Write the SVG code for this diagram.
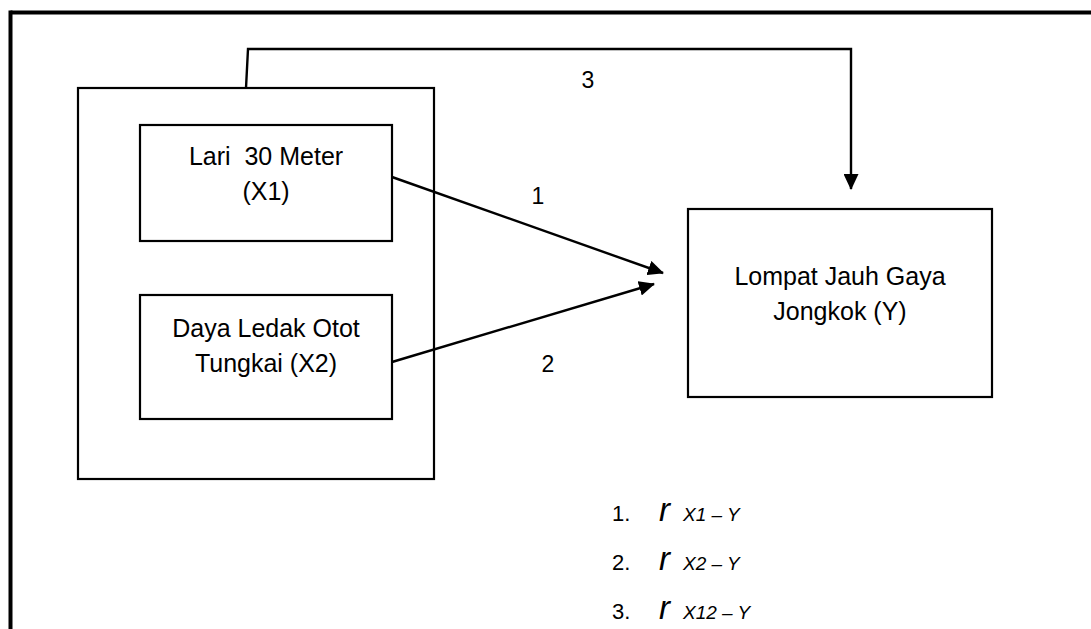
<svg xmlns="http://www.w3.org/2000/svg" width="1091" height="629" viewBox="0 0 1091 629">
  <defs>
    <style>
      .box { fill: #ffffff; stroke: #000000; stroke-width: 2.2; }
      .lbl { font-family: "Liberation Sans", Arial, sans-serif; font-size: 25px; fill: #000000; text-anchor: middle; }
      .num { font-family: "Liberation Sans", Arial, sans-serif; font-size: 23px; fill: #000000; text-anchor: middle; }
      .lst { font-family: "Liberation Sans", Arial, sans-serif; fill: #000000; }
      .conn { fill: none; stroke: #000000; stroke-width: 2.4; }
    </style>
    <marker id="arr" viewBox="0 0 16 15" refX="15" refY="7.5" markerWidth="16" markerHeight="15" markerUnits="userSpaceOnUse" orient="auto">
      <path d="M0,0 L16,7.5 L0,15 Z" fill="#000000"/>
    </marker>
  </defs>
  <rect x="0" y="0" width="1091" height="629" fill="#ffffff"/>

  <!-- page frame -->
  <g id="frame">
    <line x1="10.5" y1="12.5" x2="1091" y2="12.5" stroke="#000000" stroke-width="4"/>
    <line x1="10.5" y1="10.5" x2="10.5" y2="629" stroke="#000000" stroke-width="4"/>
  </g>

  <g id="group-x">
    <rect class="box" x="78" y="88" width="356" height="391"/>
  </g>

  <g id="node-x1">
    <rect class="box" x="140" y="125" width="252" height="116"/>
    <text class="lbl" x="266" y="165" xml:space="preserve">Lari  30 Meter</text>
    <text class="lbl" x="266" y="200">(X1)</text>
  </g>

  <g id="node-x2">
    <rect class="box" x="140" y="295" width="252" height="124"/>
    <text class="lbl" x="266" y="337">Daya Ledak Otot</text>
    <text class="lbl" x="266" y="372">Tungkai (X2)</text>
  </g>

  <g id="node-y">
    <rect class="box" x="688" y="209" width="304" height="188"/>
    <text class="lbl" x="840" y="285">Lompat Jauh Gaya</text>
    <text class="lbl" x="840" y="320">Jongkok (Y)</text>
  </g>

  <g id="connectors">
    <path class="conn" d="M246,88 L248,49 L851,49 L851,189" marker-end="url(#arr)"/>
    <line class="conn" x1="392" y1="177" x2="663" y2="273" marker-end="url(#arr)"/>
    <line class="conn" x1="392" y1="362" x2="654" y2="284" marker-end="url(#arr)"/>
    <text class="num" x="588" y="88">3</text>
    <text class="num" x="538" y="204">1</text>
    <text class="num" x="548" y="372">2</text>
  </g>

  <g id="legend">
    <text class="lst" x="612" y="521" font-size="22">1.</text>
    <text class="lst" x="659" y="521" font-size="33" font-style="italic">r</text>
    <text class="lst" x="683" y="521" font-size="19" font-style="italic">X1 – Y</text>
    <text class="lst" x="612" y="570" font-size="22">2.</text>
    <text class="lst" x="659" y="570" font-size="33" font-style="italic">r</text>
    <text class="lst" x="683" y="570" font-size="19" font-style="italic">X2 – Y</text>
    <text class="lst" x="612" y="619" font-size="22">3.</text>
    <text class="lst" x="659" y="619" font-size="33" font-style="italic">r</text>
    <text class="lst" x="683" y="619" font-size="19" font-style="italic">X12 – Y</text>
  </g>
</svg>
